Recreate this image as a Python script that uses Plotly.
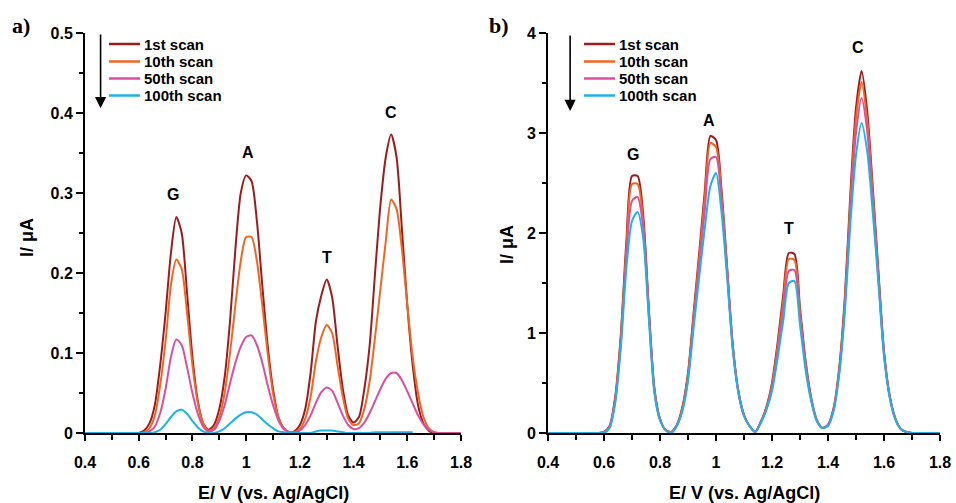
import plotly.graph_objects as go

# Potential axis (V vs Ag/AgCl)
E = [0.40, 0.42, 0.44, 0.46, 0.48, 0.50, 0.52, 0.54, 0.56, 0.58,
     0.60, 0.62, 0.64, 0.66, 0.68, 0.70, 0.72, 0.74, 0.76, 0.78,
     0.80, 0.82, 0.84, 0.86, 0.88, 0.90, 0.92, 0.94, 0.96, 0.98,
     1.00, 1.02, 1.04, 1.06, 1.08, 1.10, 1.12, 1.14, 1.16, 1.18,
     1.20, 1.22, 1.24, 1.26, 1.28, 1.30, 1.32, 1.34, 1.36, 1.38,
     1.40, 1.42, 1.44, 1.46, 1.48, 1.50, 1.52, 1.54, 1.56, 1.58,
     1.60, 1.62, 1.64, 1.66, 1.68, 1.70, 1.72, 1.74, 1.76, 1.78,
     1.80]

scan_names = ["1st scan", "10th scan", "50th scan", "100th scan"]
scan_colors = ["#9e1b1e", "#f26522", "#dc4fa0", "#1fb2e8"]

# Panel a) currents (uA)
a_1st = [0, 0, 0, 0, 0, 0, 0, 0, 0, 0,
         0.000, 0.003, 0.012, 0.035, 0.085, 0.150, 0.225, 0.270, 0.250, 0.175,
         0.095, 0.040, 0.012, 0.004, 0.010, 0.030, 0.070, 0.140, 0.230, 0.300,
         0.322, 0.315, 0.265, 0.185, 0.110, 0.055, 0.020, 0.006, 0.001, 0.002,
         0.010, 0.030, 0.075, 0.140, 0.172, 0.192, 0.170, 0.110, 0.055, 0.022,
         0.013, 0.020, 0.055, 0.110, 0.200, 0.285, 0.345, 0.373, 0.345, 0.255,
         0.160, 0.085, 0.035, 0.012, 0.003, 0, 0, 0, 0, 0,
         0]
a_10th = [0, 0, 0, 0, 0, 0, 0, 0, 0, 0,
          0.000, 0.001, 0.006, 0.022, 0.060, 0.115, 0.185, 0.217, 0.205, 0.150,
          0.085, 0.038, 0.012, 0.003, 0.006, 0.020, 0.050, 0.100, 0.160, 0.215,
          0.245, 0.245, 0.215, 0.160, 0.100, 0.050, 0.020, 0.006, 0.001, 0.001,
          0.005, 0.018, 0.045, 0.090, 0.120, 0.135, 0.125, 0.085, 0.045, 0.018,
          0.010, 0.012, 0.030, 0.065, 0.120, 0.180, 0.240, 0.292, 0.280, 0.230,
          0.160, 0.095, 0.050, 0.020, 0.006, 0.001, 0, 0, 0, 0,
          0]
a_50th = [0, 0, 0, 0, 0, 0, 0, 0, 0, 0,
          0.000, 0.000, 0.002, 0.008, 0.025, 0.055, 0.095, 0.117, 0.110, 0.082,
          0.050, 0.024, 0.008, 0.002, 0.004, 0.015, 0.035, 0.062, 0.088, 0.108,
          0.120, 0.122, 0.110, 0.088, 0.060, 0.035, 0.016, 0.005, 0.001, 0.001,
          0.003, 0.010, 0.022, 0.038, 0.051, 0.057, 0.053, 0.038, 0.022, 0.010,
          0.005, 0.006, 0.013, 0.025, 0.040, 0.055, 0.068, 0.075, 0.075, 0.066,
          0.052, 0.037, 0.022, 0.011, 0.004, 0.001, 0, 0, 0, 0,
          0]
a_100th = [0, 0, 0, 0, 0, 0, 0, 0, 0, 0,
           0, 0, 0, 0.001, 0.004, 0.011, 0.020, 0.027, 0.029, 0.024,
           0.015, 0.007, 0.002, 0, 0, 0.002, 0.006, 0.012, 0.018, 0.023,
           0.026, 0.026, 0.023, 0.017, 0.011, 0.006, 0.002, 0.001, 0, 0,
           0, 0, 0, 0.002, 0.003, 0.003, 0.003, 0.002, 0.001, 0,
           0, 0, 0, 0, 0.001, 0.001, 0.001, 0.001, 0.001, 0.001,
           0.001, 0.001, None, None, None, None, None, None, None, None,
           None]

# Panel b) currents (uA)
b_1st = [0, 0, 0, 0, 0, 0, 0, 0, 0, 0,
         0.01, 0.07, 0.36, 0.98, 1.92, 2.57, 2.57, 2.18, 1.25, 0.45,
         0.14, 0.03, 0.01, 0.08, 0.26, 0.60, 1.20, 1.80, 2.42, 2.97,
         2.93, 2.42, 1.65, 0.88, 0.42, 0.18, 0.07, 0.01, 0.11, 0.26,
         0.50, 0.90, 1.38, 1.80, 1.79, 1.25, 0.72, 0.35, 0.13, 0.05,
         0.08, 0.25, 0.65, 1.35, 2.40, 3.25, 3.62, 3.22, 2.45, 1.62,
         0.82, 0.38, 0.15, 0.04, 0.01, 0, 0, 0, 0, 0,
         0]
b_10th = [0, 0, 0, 0, 0, 0, 0, 0, 0, 0,
          0.01, 0.06, 0.34, 0.95, 1.86, 2.49, 2.49, 2.12, 1.22, 0.43,
          0.14, 0.03, 0.01, 0.08, 0.25, 0.58, 1.16, 1.75, 2.36, 2.90,
          2.86, 2.38, 1.62, 0.86, 0.41, 0.18, 0.07, 0.01, 0.11, 0.25,
          0.48, 0.86, 1.32, 1.74, 1.73, 1.21, 0.70, 0.34, 0.13, 0.05,
          0.08, 0.24, 0.63, 1.31, 2.32, 3.15, 3.51, 3.13, 2.40, 1.58,
          0.80, 0.37, 0.15, 0.04, 0.01, 0, 0, 0, 0, 0,
          0]
b_50th = [0, 0, 0, 0, 0, 0, 0, 0, 0, 0,
          0.00, 0.06, 0.32, 0.90, 1.76, 2.32, 2.36, 2.05, 1.19, 0.42,
          0.13, 0.03, 0.00, 0.07, 0.23, 0.55, 1.11, 1.67, 2.23, 2.74,
          2.76, 2.30, 1.59, 0.85, 0.41, 0.17, 0.07, 0.01, 0.11, 0.24,
          0.45, 0.80, 1.22, 1.62, 1.63, 1.15, 0.67, 0.33, 0.12, 0.05,
          0.08, 0.23, 0.61, 1.26, 2.22, 3.00, 3.35, 3.02, 2.30, 1.54,
          0.79, 0.37, 0.14, 0.04, 0.01, 0, 0, 0, 0, 0,
          0]
b_100th = [0, 0, 0, 0, 0, 0, 0, 0, 0, 0,
           0.00, 0.05, 0.30, 0.85, 1.65, 2.12, 2.21, 1.95, 1.15, 0.40,
           0.13, 0.03, 0.00, 0.07, 0.22, 0.52, 1.05, 1.56, 2.05, 2.47,
           2.60, 2.20, 1.55, 0.83, 0.40, 0.17, 0.07, 0.01, 0.10, 0.23,
           0.42, 0.75, 1.12, 1.50, 1.52, 1.08, 0.63, 0.32, 0.12, 0.05,
           0.07, 0.22, 0.58, 1.20, 2.10, 2.78, 3.10, 2.82, 2.20, 1.50,
           0.77, 0.36, 0.14, 0.04, 0.01, 0, 0, 0, 0, 0,
           0]

peak_labels = ["G", "A", "T", "C"]
a_label_x = [0.728, 1.007, 1.301, 1.539]
a_label_y = [0.2975, 0.350, 0.220, 0.400]
b_label_x = [0.703, 0.974, 1.261, 1.506]
b_label_y = [2.78, 3.12, 2.04, 3.85]

FONT = "Liberation Sans, Arial, sans-serif"
SERIF = "Liberation Serif, Times New Roman, serif"
W, H = 956, 503


def px_x(p):
    return p / W


def px_y(p):
    return (H - p) / H


fig = go.Figure()

a_series = [a_1st, a_10th, a_50th, a_100th]
b_series = [b_1st, b_10th, b_50th, b_100th]
for name, col, ys in zip(scan_names, scan_colors, a_series):
    fig.add_trace(go.Scatter(x=E, y=ys, mode="lines", name=name, showlegend=False,
                             line=dict(color=col, width=2, shape="spline", smoothing=0.7),
                             xaxis="x", yaxis="y"))
for name, col, ys in zip(scan_names, scan_colors, b_series):
    fig.add_trace(go.Scatter(x=E, y=ys, mode="lines", name=name, showlegend=False,
                             line=dict(color=col, width=2, shape="spline", smoothing=0.7),
                             xaxis="x2", yaxis="y2"))

common_x = dict(range=[0.4, 1.8], dtick=0.2, tick0=0.4, showgrid=False, zeroline=False,
                showline=True, linecolor="black", linewidth=2, automargin=False,
                ticks="outside", ticklen=6, tickwidth=2, tickcolor="black",
                minor=dict(dtick=0.1, ticks="outside", ticklen=5, tickwidth=2, tickcolor="black"),
                tickfont=dict(family=FONT, size=16, color="black", weight="bold"),
                ticklabelstandoff=8)
common_y = dict(showgrid=False, zeroline=False, showline=True, linecolor="black", linewidth=2,
                automargin=False,
                ticks="outside", ticklen=7, tickwidth=2, tickcolor="black",
                tickfont=dict(family=FONT, size=16, color="black", weight="bold"))

fig.update_layout(
    width=W, height=H,
    margin=dict(l=0, r=0, t=0, b=0),
    paper_bgcolor="white", plot_bgcolor="white",
    showlegend=False,
    xaxis=dict(domain=[px_x(85), px_x(461)], anchor="y", **common_x),
    yaxis=dict(domain=[px_y(433), px_y(33)], anchor="x", range=[0, 0.5], dtick=0.1,
               minor=dict(dtick=0.05, ticks="outside", ticklen=4, tickwidth=2, tickcolor="black"),
               **common_y),
    xaxis2=dict(domain=[px_x(548), px_x(940)], anchor="y2", **common_x),
    yaxis2=dict(domain=[px_y(433), px_y(33)], anchor="x2", range=[0, 4], dtick=1,
                minor=dict(dtick=0.5, ticks="outside", ticklen=4, tickwidth=2, tickcolor="black"),
                **common_y),
)

ann = []
shapes = []
for t, x, y in zip(peak_labels, a_label_x, a_label_y):
    ann.append(dict(text=t, x=x, y=y, xref="x", yref="y", showarrow=False,
                    font=dict(family=FONT, size=16, color="black", weight="bold")))
for t, x, y in zip(peak_labels, b_label_x, b_label_y):
    ann.append(dict(text=t, x=x, y=y, xref="x2", yref="y2", showarrow=False,
                    font=dict(family=FONT, size=16, color="black", weight="bold")))

# legend keys (one block per panel)
legend_rows = [44, 61.5, 78.5, 95.5]
for x0 in (109, 584):
    for name, col, yc in zip(scan_names, scan_colors, legend_rows):
        shapes.append(dict(type="line", xref="paper", yref="paper",
                           x0=px_x(x0), x1=px_x(x0 + 31), y0=px_y(yc), y1=px_y(yc),
                           line=dict(color=col, width=2.5)))
        ann.append(dict(text=name, x=px_x(x0 + 33), y=px_y(yc), xref="paper", yref="paper",
                        showarrow=False, xanchor="left", yanchor="middle",
                        font=dict(family=FONT, size=15, color="black", weight="bold")))

# scan-direction arrows
ann.append(dict(x=0.458, y=0.406, ax=0.458, ay=0.5, xref="x", yref="y", axref="x", ayref="y",
                text="", showarrow=True, arrowhead=2, arrowsize=1.4, arrowwidth=1.6,
                arrowcolor="black"))
ann.append(dict(x=0.479, y=3.22, ax=0.479, ay=3.99, xref="x2", yref="y2", axref="x2", ayref="y2",
                text="", showarrow=True, arrowhead=2, arrowsize=1.4, arrowwidth=1.6,
                arrowcolor="black"))

# axis titles
for xc in (273, 744):
    ann.append(dict(text="E/ V (vs. Ag/AgCl)", x=px_x(xc), y=px_y(493), xref="paper", yref="paper",
                    showarrow=False, xanchor="center", yanchor="middle",
                    font=dict(family=FONT, size=18, color="black", weight="bold")))
for xc, yc in ((27, 238), (507, 245)):
    ann.append(dict(text="I/ μA", x=px_x(xc), y=px_y(yc), xref="paper", yref="paper",
                    showarrow=False, textangle=-90, xanchor="center", yanchor="middle",
                    font=dict(family=FONT, size=18, color="black", weight="bold")))

# panel labels
for t, xc in (("a)", 21), ("b)", 499)):
    ann.append(dict(text=t, x=px_x(xc), y=px_y(26), xref="paper", yref="paper",
                    showarrow=False, xanchor="center", yanchor="middle",
                    font=dict(family=SERIF, size=22, color="black", weight="bold")))

fig.update_layout(annotations=ann, shapes=shapes)

# remove the default page margin so the figure sits at the window's top-left corner
fig.write_html("out.html", config={"displayModeBar": False},
               post_script="document.body.style.margin='0';")
